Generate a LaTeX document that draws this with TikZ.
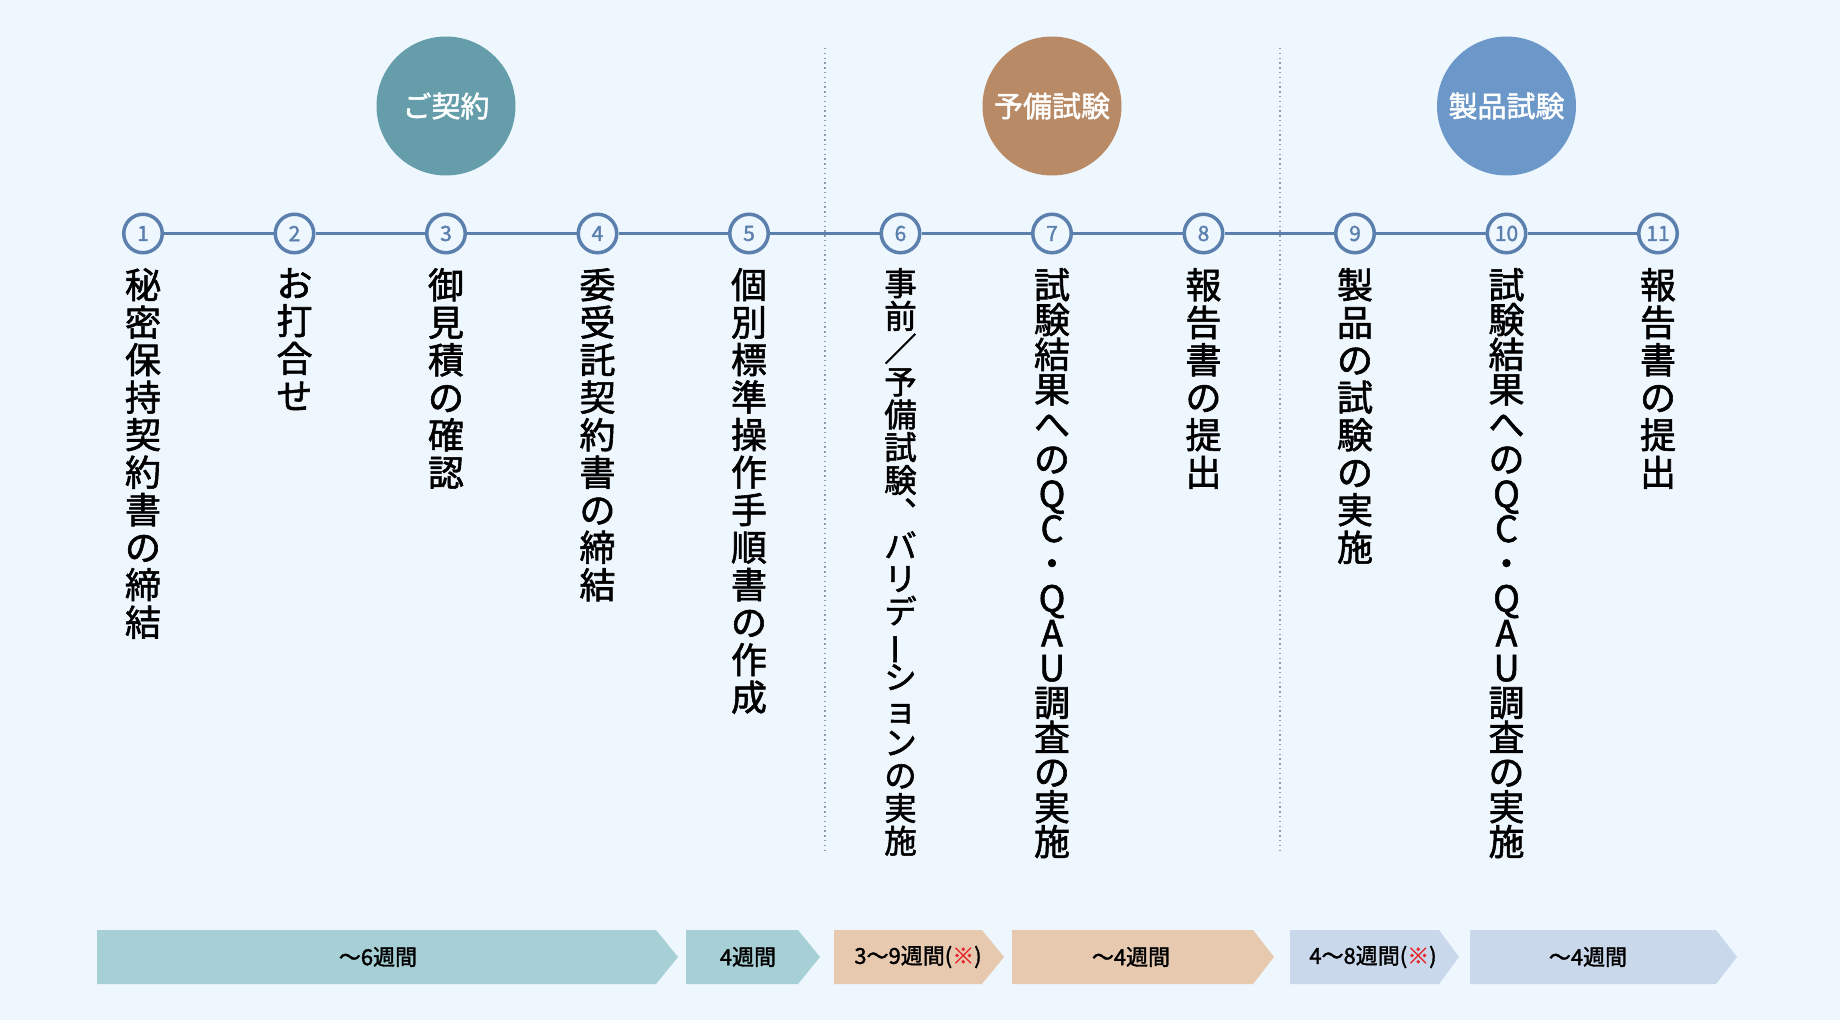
\documentclass[tikz,border=0pt]{standalone}
\usepackage{fontspec}
\newfontfamily\jp{Noto Sans CJK JP}
\newfontfamily\jpm{Noto Sans CJK JP}[FakeBold=1.6]
\usetikzlibrary{positioning}
\definecolor{bgblue}{HTML}{EEF6FE}
\definecolor{linecol}{HTML}{5B80AD}
\definecolor{dotcol}{HTML}{8C9DB3}
\definecolor{keiyakuC}{HTML}{659EAA}
\definecolor{yobiC}{HTML}{B88A65}
\definecolor{seihinC}{HTML}{6B98C8}
\definecolor{keiyakuL}{HTML}{A6D0D6}
\definecolor{yobiL}{HTML}{E6C9AF}
\definecolor{seihinL}{HTML}{C9D8EB}
\definecolor{notered}{HTML}{E8262B}

\begin{document}
\begin{tikzpicture}[
		x=1pt, y=-1pt,
		stage/.style={circle, fill=#1, minimum size=139pt, inner sep=0pt, text=white, font=\jpm\fontsize{29}{29}\selectfont},
		num/.style={circle, draw=linecol, line width=3.5pt, fill=bgblue, minimum size=38.5pt, inner sep=0pt, text=linecol, font=\jpm\fontsize{21}{21}\selectfont},
		vtext/.style={anchor=north, align=center, inner sep=0pt, font={\jpm\fontsize{36}{37.5}\selectfont\lineskiplimit-50pt\relax}},
		vqc/.style={vtext, font={\jpm\fontsize{36}{34.8}\selectfont\lineskiplimit-50pt\relax}},
		vtight/.style={vtext, font={\jpm\fontsize{32.5}{32.8}\selectfont\lineskiplimit-50pt\relax}},
		dur/.style={inner sep=0pt, font=\jpm\fontsize{22}{22}\selectfont},
		timeline/.style={draw=linecol, line width=2.7pt},
		dotsep/.style={draw=dotcol, line width=1.3pt, dash pattern=on 1.3pt off 3.5pt}
		]

		% --- Fond ---
		\fill[bgblue] (0,0) rectangle (1840,1020);

		% --- Separateurs ---
		\coordinate (sepA) at (825,48);
		\coordinate (sepAend) at (825,854);
		\coordinate (sepB) at (1280,48);
		\coordinate (sepBend) at (1280,854);
		\draw[dotsep] (sepA) -- (sepAend);
		\draw[dotsep] (sepB) -- (sepBend);

		% --- Phases ---
		\node[stage=keiyakuC] (keiyaku) at (446,106) {ご契約};
		\node[stage=yobiC] (yobi) at (1052,106) {予備試験};
		\node[stage=seihinC] (seihin) at (1506.5,106) {製品試験};

		% --- Etapes ---
		\node[num] (n1) at (143,233.5) {1};
		\node[num] (n2) at (294.5,233.5) {2};
		\node[num] (n3) at (446,233.5) {3};
		\node[num] (n4) at (597.5,233.5) {4};
		\node[num] (n5) at (749,233.5) {5};
		\node[num] (n6) at (900.5,233.5) {6};
		\node[num] (n7) at (1052,233.5) {7};
		\node[num] (n8) at (1203.5,233.5) {8};
		\node[num] (n9) at (1355,233.5) {9};
		\node[num] (n10) at (1506.5,233.5) {10};
		\node[num] (n11) at (1658,233.5) {11};

		% Ligne du temps
		\draw[timeline] (n1) -- (n2) (n2) -- (n3) (n3) -- (n4) (n4) -- (n5) (n5) -- (n6)
			(n6) -- (n7) (n7) -- (n8) (n8) -- (n9) (n9) -- (n10) (n10) -- (n11);

		% Textes verticaux
		\node[vtext] (t1) at (143,268) {秘\\密\\保\\持\\契\\約\\書\\の\\締\\結};
		\node[vtext] (t2) at (294.5,268) {お\\打\\合\\せ};
		\node[vtext] (t3) at (446,268) {御\\見\\積\\の\\確\\認};
		\node[vtext] (t4) at (597.5,268) {委\\受\\託\\契\\約\\書\\の\\締\\結};
		\node[vtext] (t5) at (749,268) {個\\別\\標\\準\\操\\作\\手\\順\\書\\の\\作\\成};
		\node[vtight] (t6) at (900.5,268) {事\\前\\／\\予\\備\\試\\験\\︑\\バ\\リ\\デ\\\rotatebox[origin=c]{90}{ー}\\シ\\ョ\\ン\\の\\実\\施};
		\node[vqc] (t7) at (1052,268) {試\\験\\結\\果\\へ\\の\\Q\\C\\・\\Q\\A\\U\\調\\査\\の\\実\\施};
		\node[vtext] (t8) at (1203.5,268) {報\\告\\書\\の\\提\\出};
		\node[vtext] (t9) at (1355,268) {製\\品\\の\\試\\験\\の\\実\\施};
		\node[vqc] (t10) at (1506.5,268) {試\\験\\結\\果\\へ\\の\\Q\\C\\・\\Q\\A\\U\\調\\査\\の\\実\\施};
		\node[vtext] (t11) at (1658,268) {報\\告\\書\\の\\提\\出};

		% --- Durees ---
		\fill[keiyakuL] (97,930) -- (656,930) -- (678,957) -- (656,984) -- (97,984) -- cycle;
		\fill[keiyakuL] (686,930) -- (798,930) -- (820,957) -- (798,984) -- (686,984) -- cycle;
		\fill[yobiL] (834,930) -- (982,930) -- (1004,957) -- (982,984) -- (834,984) -- cycle;
		\fill[yobiL] (1012,930) -- (1253,930) -- (1274,957) -- (1253,984) -- (1012,984) -- cycle;
		\fill[seihinL] (1290,930) -- (1439,930) -- (1459,957) -- (1439,984) -- (1290,984) -- cycle;
		\fill[seihinL] (1470,930) -- (1716,930) -- (1737,957) -- (1716,984) -- (1470,984) -- cycle;

		\node[dur] (d1) at (378,957) {〜6週間};
		\node[dur] (d2) at (748,957) {4週間};
		\node[dur] (d3) at (918,957) {3〜9週間(\textcolor{notered}{※})};
		\node[dur] (d4) at (1131,957) {〜4週間};
		\node[dur] (d5) at (1373,957) {4〜8週間(\textcolor{notered}{※})};
		\node[dur] (d6) at (1588,957) {〜4週間};

	\end{tikzpicture}
\end{document}
